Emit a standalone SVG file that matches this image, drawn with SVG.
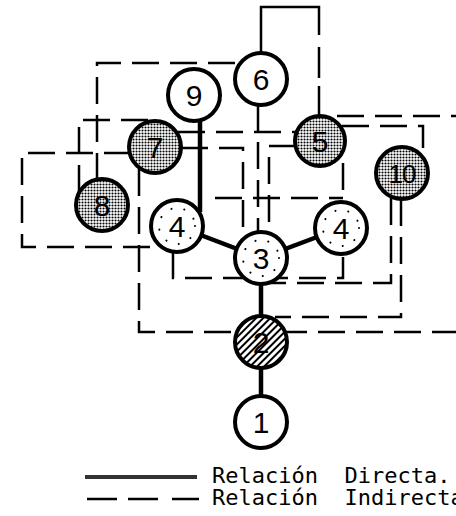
<svg xmlns="http://www.w3.org/2000/svg" width="456" height="516" viewBox="0 0 456 516">
<style>
.nd{stroke:#000;stroke-width:4}
.wh{fill:#fff}
.sh{fill:url(#stip)}
.ht{fill:url(#hatch)}
.ring{fill:none;stroke:#000;stroke-width:2;stroke-linecap:round;stroke-dasharray:0.1 13}
.lbl{font-family:"Liberation Sans",Arial,sans-serif;font-size:30px;text-anchor:middle;fill:#000}
.dir{stroke:#000;stroke-width:4.5;fill:none}
.ind{stroke:#000;stroke-width:2.5;fill:none;stroke-dasharray:27 11}
.thin{stroke:#000;stroke-width:2.5;fill:none}
.leg{font-family:"DejaVu Sans Mono","Liberation Mono",monospace;font-size:22px;fill:#000}
</style>
<defs>
<pattern id="stip" width="3" height="3" patternUnits="userSpaceOnUse">
<rect width="3" height="3" fill="#fff"/>
<circle cx="1.5" cy="1.5" r="1.05" fill="#000"/>
</pattern>
<pattern id="hatch" width="5" height="5" patternUnits="userSpaceOnUse" patternTransform="rotate(45)">
<rect width="5" height="5" fill="#fff"/>
<line x1="1" y1="0" x2="1" y2="5" stroke="#000" stroke-width="2"/>
</pattern>
</defs>
<rect width="456" height="516" fill="#fff"/>
<g id="connectors">
<path class="dir" d="M200,118 V212"/>
<path class="dir" d="M177,226 L261,258"/>
<path class="dir" d="M261,258 L341,228"/>
<path class="dir" d="M261,258 V342"/>
<path class="dir" d="M261,342 V422"/>
<path class="thin" d="M261,60 V7 H319 V35"/>
<path class="thin" d="M319,47 V78 M319,86 V120"/>
<path class="ind" d="M97,180 V63 H241"/>
<path class="ind" d="M79,192 V120 H148"/>
<path class="ind" d="M131,153 H22 V247 H162"/>
<path class="ind" d="M139,169 V332 H456"/>
<path class="ind" d="M178,132 H296"/>
<path class="ind" d="M181,148 H243 V240"/>
<path class="ind" d="M258,104 V233"/>
<path class="ind" d="M296,146 H269 V234"/>
<path class="ind" d="M343,163 V202"/>
<path class="ind" d="M215,198 H343"/>
<path class="ind" d="M173,252 V278 H343 V254"/>
<path class="ind" d="M391,198 V283 H265"/>
<path class="ind" d="M401,199 V317 H275"/>
<path class="ind" d="M342,126 H423 V156"/>
<path class="ind" d="M337,116 H456"/>
</g>
<g id="node6"><circle class="nd wh" cx="261" cy="79" r="26"/><text class="lbl" x="261" y="90">6</text></g>
<g id="node9"><circle class="nd wh" cx="194" cy="95" r="26"/><text class="lbl" x="194" y="106">9</text></g>
<g id="node7"><circle class="nd sh" cx="155" cy="147" r="26"/><text class="lbl" x="155" y="158">7</text></g>
<g id="node5"><circle class="nd sh" cx="320" cy="141" r="25"/><text class="lbl" x="320" y="152">5</text></g>
<g id="node10"><circle class="nd sh" cx="402" cy="173" r="26"/><text class="lbl" x="402" y="183" style="font-size:26px;letter-spacing:-1px">10</text></g>
<g id="node8"><circle class="nd sh" cx="102" cy="205" r="26"/><text class="lbl" x="102" y="216">8</text></g>
<g id="node4a"><circle class="nd wh" cx="177" cy="226" r="26"/><circle class="ring" cx="177" cy="226" r="18"/><text class="lbl" x="177" y="237">4</text></g>
<g id="node3"><circle class="nd wh" cx="261" cy="258" r="26"/><circle class="ring" cx="261" cy="258" r="18"/><text class="lbl" x="261" y="269">3</text></g>
<g id="node4b"><circle class="nd wh" cx="341" cy="228" r="26"/><circle class="ring" cx="341" cy="228" r="18"/><text class="lbl" x="341" y="239">4</text></g>
<g id="node2"><circle class="nd ht" cx="261" cy="342" r="26"/><text class="lbl" x="261" y="353">2</text></g>
<g id="node1"><circle class="nd wh" cx="261" cy="422" r="26"/><text class="lbl" x="261" y="433">1</text></g>
<g id="legend">
<line x1="85" y1="477" x2="197" y2="477" stroke="#333" stroke-width="4"/>
<path d="M87,499 H117 M128,499 H158 M172,499 H199" stroke="#000" stroke-width="2.5" fill="none"/>
<text class="leg" x="212" y="483" xml:space="preserve">Relación  Directa.</text>
<text class="leg" x="212" y="505" xml:space="preserve">Relación  Indirecta</text>
</g>
</svg>
